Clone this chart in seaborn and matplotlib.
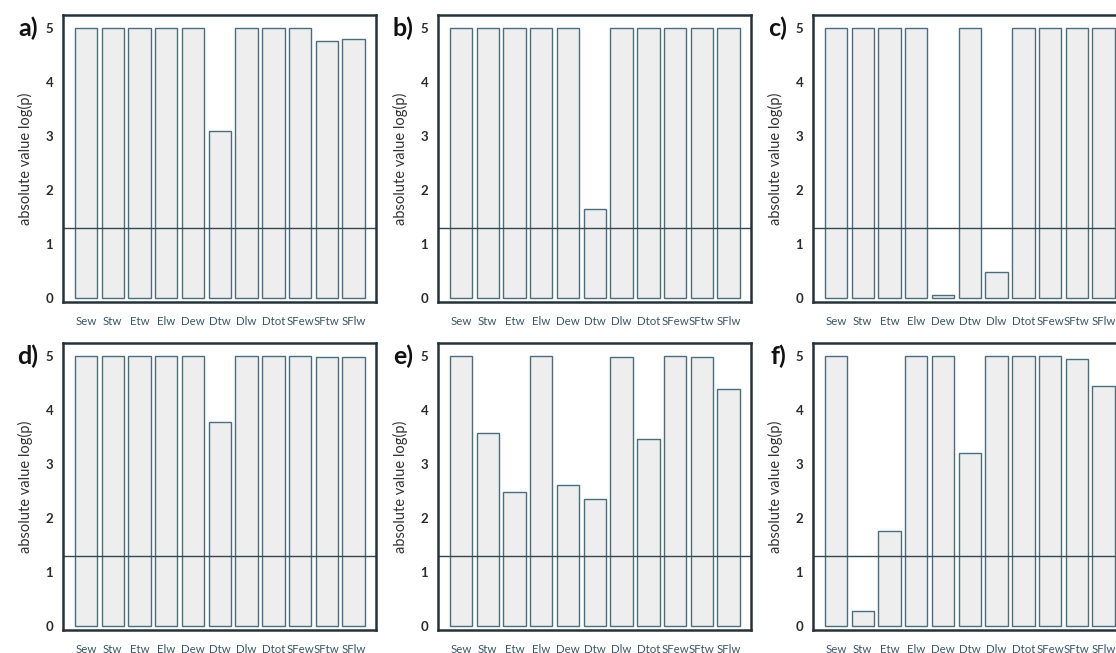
import matplotlib
matplotlib.use("Agg")
import matplotlib.pyplot as plt
import seaborn as sns

sns.set_style("white")
plt.rcParams['font.family'] = ['Lato', 'DejaVu Sans']

categories = ["Sew", "Stw", "Etw", "Elw", "Dew", "Dtw", "Dlw", "Dtot", "SFew", "SFtw", "SFlw"]

vals_a = [5, 5, 5, 5, 5, 3.1, 5, 5, 5, 4.75, 4.8]
vals_b = [5, 5, 5, 5, 5, 1.65, 5, 5, 5, 5, 5]
vals_c = [5, 5, 5, 5, 0.05, 5, 0.48, 5, 5, 5, 5]
vals_d = [5, 5, 5, 5, 5, 3.78, 5, 5, 5, 4.98, 4.98]
vals_e = [5, 3.57, 2.49, 5, 2.61, 2.35, 4.98, 3.46, 5, 4.98, 4.38]
vals_f = [5, 0.28, 1.76, 5, 5, 3.2, 5, 5, 5, 4.94, 4.45]

panels = ["a)", "b)", "c)", "d)", "e)", "f)"]
series = [vals_a, vals_b, vals_c, vals_d, vals_e, vals_f]
threshold = 1.3  # -log10(0.05)

edge = "#4a6e7e"
frame = "#263238"
lefts = [63, 438, 813]
tops = [15, 343]
W, H = 1116, 653
aw, ah = 313, 287

fig = plt.figure(figsize=(W / 100, H / 100), dpi=100)

for i, (lab, vals) in enumerate(zip(panels, series)):
    row, col = divmod(i, 3)
    left = lefts[col] / W
    bottom = (H - tops[row] - ah) / H
    ax = fig.add_axes([left, bottom, aw / W, ah / H])
    sns.barplot(x=categories, y=vals, color="#eeeeee", saturation=1,
                edgecolor=edge, linewidth=1.0, width=0.84, ax=ax)
    ax.axhline(threshold, color="#33474f", linewidth=1.0)
    ax.set_xlim(-0.86, 10.84)
    ax.set_ylim(-0.074, 5.24)
    ax.set_yticks([0, 1, 2, 3, 4, 5])
    ax.tick_params(axis="y", length=3, width=0.8, color=edge, pad=4,
                   labelsize=9.5, labelcolor="#2b2b2b")
    ax.tick_params(axis="x", length=0, pad=10, labelsize=8.3, labelcolor="#3a5566")
    for t in ax.get_yticklabels():
        t.set_fontweight("bold")
    for sp in ax.spines.values():
        sp.set_visible(True)
        sp.set_color(frame)
        sp.set_linewidth(1.8)
    ax.set_ylabel("absolute value log(p)", fontsize=10.5, color="#333333", labelpad=9)
    ax.text(-0.112, 0.955, lab, transform=ax.transAxes, fontsize=18,
            fontweight="bold", color="#111111", ha="center", va="center")

fig.savefig("out.png", dpi=100)
